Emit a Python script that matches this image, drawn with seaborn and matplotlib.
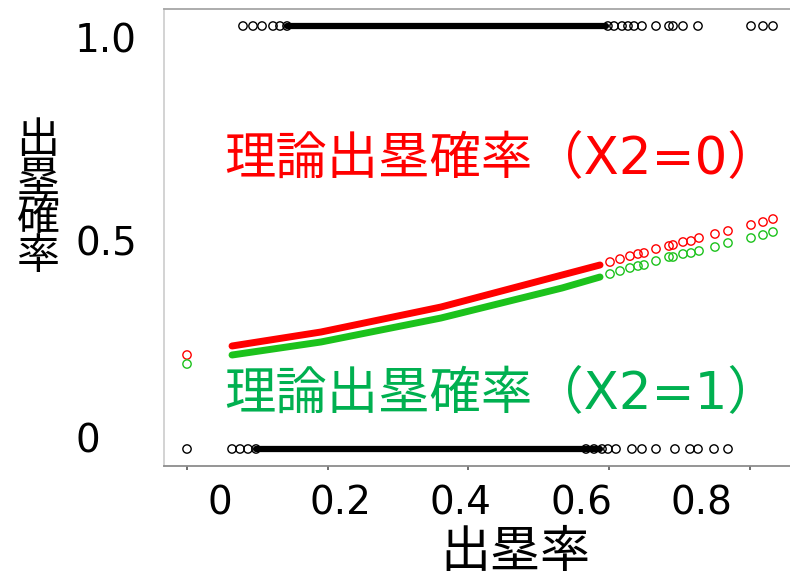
import matplotlib
matplotlib.use("Agg")
import matplotlib.pyplot as plt
import matplotlib.transforms as mtransforms
import seaborn as sns
import pandas as pd

# ---------------- data ----------------
# observed outcomes: sparse individual points
obs1_x = [0.0388, 0.0554, 0.0704, 0.0886, 0.1002, 0.1119,
          0.6445, 0.6546, 0.6679, 0.6778, 0.6878, 0.7010, 0.7243, 0.7459,
          0.7525, 0.7691, 0.7940, 0.8820, 0.9019, 0.9185]
obs0_x = [-0.0541, 0.0206, 0.0339, 0.0471, 0.0604,
          0.6081, 0.6214, 0.6347, 0.6445, 0.6579, 0.6844, 0.7010, 0.7243,
          0.7558, 0.7807, 0.7940, 0.8206, 0.8438]
# dense ranges where observations overlap into a solid band
obs1_dense = [0.1119, 0.6414]
obs0_dense = [0.0604, 0.6314]

# theoretical probability, X2 = 0 (red) and X2 = 1 (green)
curve_x = [0.0206, 0.1683, 0.3675, 0.5683, 0.6314]
red_curve_y = [0.2435, 0.2766, 0.3357, 0.4113, 0.4350]
green_curve_y = [0.2222, 0.2530, 0.3097, 0.3806, 0.4066]

pts_x = [-0.0541, 0.6480, 0.6646, 0.6811, 0.6944, 0.7044, 0.7243, 0.7459,
         0.7525, 0.7691, 0.7824, 0.7957, 0.8222, 0.8438, 0.8820, 0.9019, 0.9185]
red_pts_y = [0.2222, 0.4420, 0.4490, 0.4560, 0.4610, 0.4634, 0.4728, 0.4799,
             0.4823, 0.4894, 0.4917, 0.4988, 0.5083, 0.5154, 0.5296, 0.5366, 0.5437]
green_pts_y = [0.2009, 0.4137, 0.4208, 0.4279, 0.4326, 0.4350, 0.4444, 0.4539,
               0.4539, 0.4610, 0.4634, 0.4681, 0.4775, 0.4870, 0.4988, 0.5059, 0.5130]

xtick_vals = [0.0, 0.2, 0.4, 0.6, 0.8]
xtick_labels = ["0", "0.2", "0.4", "0.6", "0.8"]
xtick_marks = [-0.0541, 0.1800, 0.4124, 0.6463, 0.8803]
ytick_vals = [0.0, 0.5, 1.0]
ytick_labels = ["0", "0.5", "1.0"]

label_red = "理論出塁確率（X2=0）"
label_green = "理論出塁確率（X2=1）"
xlabel = "出塁率"
ylabel = "出塁確率"

RED = "#FF0000"
GREEN = "#1CC21C"
GREEN_TXT = "#00B050"

# ---------------- style ----------------
sns.set_theme(style="white")
plt.rcParams["font.family"] = ["DejaVu Sans", "Noto Sans CJK JP"]

W, H = 790, 577
fig = plt.figure(figsize=(W / 100, H / 100), dpi=100)
ax = fig.add_axes([164 / W, 1 - 466 / H, (795 - 164) / W, (466 - 9) / H])
ax.set_xlim(-0.0923, 0.9550)
ax.set_ylim(-0.0402, 1.0402)

ms = 36
lw_pt = 1.0

# dense black bands
for rng, yv in ((obs1_dense, 1.0), (obs0_dense, 0.0)):
    sns.lineplot(x=rng, y=[yv, yv], ax=ax, color="black", lw=4.5,
                 solid_capstyle="round", legend=False)

# sparse black points
df1 = pd.DataFrame({"x": obs1_x, "y": [1.0] * len(obs1_x)})
df0 = pd.DataFrame({"x": obs0_x, "y": [0.0] * len(obs0_x)})
for d in (df1, df0):
    sns.scatterplot(data=d, x="x", y="y", ax=ax, s=ms, facecolor="none",
                    edgecolor="black", linewidth=lw_pt, legend=False)

# theoretical curves (dense parts)
sns.lineplot(x=curve_x, y=red_curve_y, ax=ax, color=RED, lw=5.0,
             solid_capstyle="round", legend=False, sort=False)
sns.lineplot(x=curve_x, y=green_curve_y, ax=ax, color=GREEN, lw=5.0,
             solid_capstyle="round", legend=False, sort=False)

# theoretical points (sparse parts)
sns.scatterplot(x=pts_x, y=red_pts_y, ax=ax, s=ms, facecolor="none",
                edgecolor=RED, linewidth=lw_pt, legend=False)
sns.scatterplot(x=pts_x, y=green_pts_y, ax=ax, s=ms, facecolor="none",
                edgecolor=GREEN, linewidth=lw_pt, legend=False)

# annotations
ax.text(0.468, 0.683, label_red, color=RED, fontsize=37,
        ha="center", va="center")
ax.text(0.468, 0.128, label_green, color=GREEN_TXT, fontsize=37,
        ha="center", va="center")

# spines
ax.spines["right"].set_visible(False)
ax.spines["top"].set_color("#A6A6A6")
ax.spines["left"].set_color("#D0D0D0")
ax.spines["bottom"].set_color("#8C8C8C")
for side in ("top", "left", "bottom"):
    ax.spines[side].set_visible(True)
    ax.spines[side].set_linewidth(1.3)

# ticks
ax.set_xticks(xtick_vals)
ax.set_xticklabels(xtick_labels)
ax.set_xticks(xtick_marks, minor=True)
ax.tick_params(axis="x", which="major", length=0, pad=13, labelsize=28,
               labelcolor="black")
ax.tick_params(axis="x", which="minor", length=3, width=1.2, color="#555555",
               direction="out", bottom=True)
ax.set_yticks(ytick_vals)
ax.set_yticklabels(ytick_labels)
ax.tick_params(axis="y", which="major", length=0, pad=64, labelsize=28,
               labelcolor="black")
# the reference's y labels sit slightly inside the 0 / 1 rows
y_label_shift_px = {"0": 11, "0.5": -3, "1.0": -11}
for t in ax.get_yticklabels():
    t.set_horizontalalignment("left")
    dy = y_label_shift_px.get(t.get_text(), 0) / 100
    t.set_transform(t.get_transform() +
                    mtransforms.ScaledTranslation(0, dy, fig.dpi_scale_trans))

# axis labels
ax.set_xlabel(xlabel, fontsize=36, color="black")
ax.xaxis.set_label_coords((515 - 164) / 631, (466 - 553) / 457)
ax.xaxis.label.set_verticalalignment("center")
ax.set_ylabel("\n".join(ylabel), fontsize=31, rotation=0, color="black",
              linespacing=0.9)
ax.yaxis.set_label_coords((38 - 164) / 631, (466 - 199) / 457)
ax.yaxis.label.set_verticalalignment("center")
ax.yaxis.label.set_horizontalalignment("center")

fig.savefig("out.png", dpi=100)
